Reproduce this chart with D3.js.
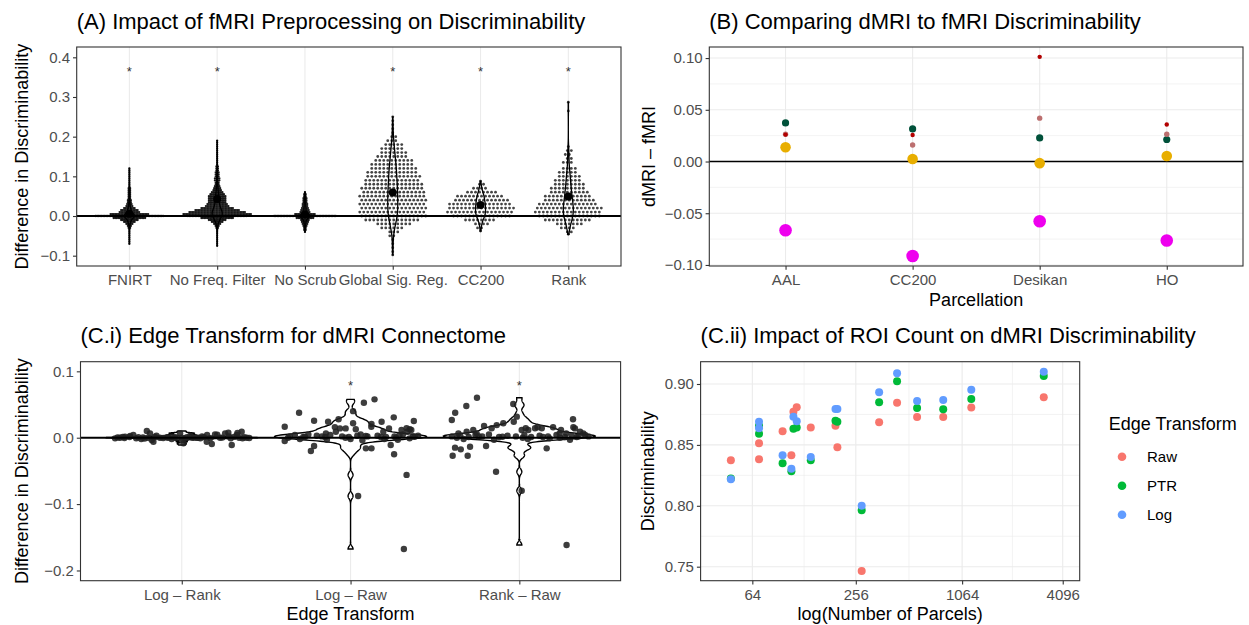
<!DOCTYPE html>
<html><head><meta charset="utf-8">
<script src="https://cdn.jsdelivr.net/npm/d3@7"></script>
<style>
body{margin:0;background:#fff;}
svg{display:block;}
text{font-family:"Liberation Sans",Arial,Helvetica,sans-serif;}
</style>
</head><body>
<svg id="c" width="1249" height="625"></svg>
<script>
// ================= DATA =================
// (A) fMRI preprocessing: swarm rows [difference, number of dots in row]
const catsA = ["FNIRT", "No Freq. Filter", "No Scrub", "Global Sig. Reg.", "CC200", "Rank"];
const swFNIRT = [[0.12,1],[0.115,1],[0.11,1],[0.105,1],[0.1,1],[0.095,1],[0.09,1],[0.085,1],[0.08,1],[0.075,1],[0.07,2],[0.065,2],[0.06,2],[0.055,2],[0.05,2],[0.045,2],[0.04,3],[0.035,3],[0.03,4],[0.025,5],[0.02,8],[0.015,12],[0.01,14],[0.005,26],[0,46],[-0.005,22],[-0.01,12],[-0.015,8],[-0.02,5],[-0.025,3],[-0.03,2],[-0.035,1],[-0.04,1],[-0.045,1],[-0.05,1],[-0.055,1],[-0.06,1],[-0.065,1],[-0.07,1]];
const swNoFreq = [[0.19,1],[0.185,1],[0.18,1],[0.175,1],[0.17,1],[0.165,1],[0.16,1],[0.155,1],[0.15,1],[0.145,1],[0.14,1],[0.135,1],[0.13,1],[0.125,2],[0.12,2],[0.115,2],[0.11,3],[0.105,3],[0.1,3],[0.095,4],[0.09,4],[0.085,3],[0.08,3],[0.075,4],[0.07,5],[0.065,6],[0.06,8],[0.055,10],[0.05,12],[0.045,12],[0.04,12],[0.035,12],[0.03,14],[0.025,16],[0.02,22],[0.015,30],[0.01,38],[0.005,46],[0,40],[-0.005,22],[-0.01,12],[-0.015,8],[-0.02,5],[-0.025,3],[-0.03,2],[-0.035,1],[-0.04,1],[-0.045,1],[-0.05,1],[-0.055,1],[-0.06,1],[-0.065,1],[-0.07,1],[-0.075,1]];
const swNoScrub = [[0.06,1],[0.055,2],[0.05,2],[0.045,3],[0.04,3],[0.035,3],[0.03,4],[0.025,4],[0.02,5],[0.015,6],[0.01,7],[0.005,14],[0,42],[-0.005,12],[-0.01,6],[-0.015,5],[-0.02,4],[-0.025,3],[-0.03,2],[-0.035,2],[-0.04,1]];
const swGSR = [[0.25,1],[0.24,1],[0.23,1],[0.22,1],[0.21,1],[0.2,2],[0.19,3],[0.18,5],[0.17,6],[0.16,7],[0.15,8],[0.14,10],[0.13,11],[0.12,12],[0.11,13],[0.1,14],[0.09,14],[0.08,15],[0.07,16],[0.06,16],[0.05,17],[0.04,17],[0.03,17],[0.02,17],[0.01,17],[0,17],[-0.01,14],[-0.02,9],[-0.03,6],[-0.04,3],[-0.05,2],[-0.06,1],[-0.07,1],[-0.08,1],[-0.09,1],[-0.098,1]];
const swCC200 = [[0.088,1],[0.08,2],[0.07,4],[0.06,8],[0.05,12],[0.04,14],[0.03,16],[0.02,17],[0.01,17],[0,15],[-0.01,8],[-0.02,4],[-0.03,2],[-0.038,1]];
const swRank = [[0.287,1],[0.265,1],[0.175,1],[0.165,2],[0.155,2],[0.145,2],[0.135,3],[0.12,4],[0.11,5],[0.1,6],[0.09,7],[0.08,8],[0.07,9],[0.06,10],[0.05,12],[0.04,13],[0.03,15],[0.02,17],[0.01,17],[0,16],[-0.01,12],[-0.02,7],[-0.03,4],[-0.04,2],[-0.046,1]];
const meansA = [0.006, 0.043, 0.004, 0.059, 0.028, 0.049];
const sigA = [true, true, false, true, true, true];
const starLevelA = 0.37;
const ticksA = [-0.1, 0, 0.1, 0.2, 0.3, 0.4];

// (B) dMRI - fMRI
const parcB = ["AAL", "CC200", "Desikan", "HO"];
const bMagenta = [-0.0665, -0.0913, -0.0577, -0.0764];
const bGold = [0.0138, 0.0025, -0.0016, 0.0054];
const bGreen = [0.0373, 0.0315, 0.0228, 0.0213];
const bRosy = [0.0264, 0.016, 0.0419, 0.0264];
const bRed = [0.026, 0.0257, 0.1012, 0.0358];
const ticksB = [-0.10, -0.05, 0, 0.05, 0.10];

// (C.i) edge transform: points [horizontal jitter (category units), difference]
const catsC = ["Log \u2013 Rank", "Log \u2013 Raw", "Rank \u2013 Raw"];
const logRankPts = [[-0.395,-0.001],[-0.366,0.0],[-0.336,0.0015],[-0.306,0.0026],[-0.287,0.004],[-0.257,0.0006],[-0.207,0.010],[-0.188,0.0066],[-0.178,-0.0035],[-0.168,-0.006],[-0.129,0.0],[-0.089,0.0006],[-0.059,0.0015],[-0.03,0.0],[-0.01,0.0066],[0.0,-0.0035],[0.01,-0.0085],[0.03,0.0006],[0.069,0.0],[0.098,0.0],[0.148,-0.006],[0.178,-0.0095],[0.197,0.005],[0.227,0.0],[0.257,0.0066],[0.276,0.0075],[0.296,-0.011],[0.326,0.004],[0.355,0.009],[0.385,0.0],[0.05,0.003],[0.12,0.002],[-0.24,-0.002],[0.21,0.0045],[0.36,-0.001],[0.28,0.002],[-0.15,0.003],[-0.06,-0.002],[0.15,0.004],[0.33,0.007],
  [-0.38,0.0005],[-0.34,-0.0005],[-0.31,0.001],[-0.27,-0.001],[-0.23,0.0005],[-0.2,0],[-0.16,0.001],[-0.11,-0.0005],[-0.08,0],[-0.04,0.0008],[0.02,-0.0008],[0.06,0.0004],[0.09,-0.0003],[0.13,0.0009],[0.17,-0.0006],[0.24,0.0002],[0.29,-0.0009],[0.31,0.0012],[0.34,-0.0002],[0.37,0.0006],[0.4,-0.0004],[-0.35,0.0012],[-0.22,-0.0012],[0.0,0.0002],[0.11,-0.001]];
const logRawPts = [[-0.39,0.0166],[-0.39,-0.005],[-0.305,0.0377],[-0.216,0.0256],[-0.216,-0.0125],[-0.235,-0.020],[-0.133,0.024],[-0.071,0.0277],[-0.093,0.016],[0.015,0.040],[0.015,0.0217],[0.031,0.0127],[0.079,0.0527],[0.142,0.0578],[0.124,0.0206],[0.184,0.024],[0.256,0.0307],[0.375,0.0251],[0.302,0.0116],[0.332,0.0142],[0.351,0.0127],[0.091,-0.016],[0.124,-0.016],[0.238,-0.011],[0.258,-0.025],[0.332,-0.056],[0.316,-0.1676],[0.045,-0.0878],[-0.063,0.014],[0.336,0.009],[0.36,0.0116],[0.228,0.014],[0.194,0.009],[0.123,0.0166],[-0.029,0.014],[-0.087,0.009],[-0.146,0.0066],[0.29,0.004],[-0.36,0.002],[-0.33,0.004],[-0.28,0.001],[-0.25,0.005],[-0.2,0.003],[-0.17,0.002],[-0.12,0.004],[-0.05,0.002],[-0.01,0.001],[0.04,0.003],[0.06,0.005],[0.1,0.002],[0.16,0.003],[0.21,0.001],[0.26,0.002],[0.31,0.005],[0.37,0.002],[0.4,0.003],[-0.3,-0.002],[-0.14,-0.003],[0.0,-0.002],[0.07,-0.004],[0.2,-0.002],[0.28,-0.003],[0.35,-0.001],
  [-0.37,0.0],[-0.27,0.0015],[-0.15,0.001],[-0.03,0.0],[0.09,0.0025],[0.18,0.001],[0.27,0.0],[0.38,0.0015]];
const rankRawPts = [[-0.40,0.0267],[-0.38,0.0377],[-0.314,0.0477],[-0.251,0.0602],[-0.395,-0.0271],[-0.306,-0.0271],[-0.381,-0.015],[-0.347,-0.0175],[-0.292,-0.0136],[-0.197,-0.0125],[-0.138,-0.0512],[0.28,-0.1616],[0.318,0.0277],[0.32,0.0157],[0.162,-0.016],[0.014,-0.0798],[-0.209,0.0176],[-0.036,0.0507],[-0.095,0.0217],[-0.361,0.0066],[-0.312,0.009],[-0.273,0.0116],[-0.253,0.0066],[-0.164,0.0142],[-0.134,0.019],[-0.015,0.0317],[0.014,0.0116],[0.053,0.0116],[0.093,0.0142],[0.133,0.0142],[0.2,0.0157],[0.239,0.0066],[0.278,0.0066],[0.36,0.009],[0.379,0.0066],[-0.033,0.024],[0.038,0.0142],[0.108,0.0157],[0.247,0.0116],[0.33,0.014],[-0.4,0.002],[-0.35,0.003],[-0.3,0.001],[-0.26,0.004],[-0.22,0.002],[-0.18,0.005],[-0.12,0.001],[-0.07,0.003],[-0.02,0.002],[0.03,0.004],[0.07,0.001],[0.12,0.003],[0.17,0.002],[0.22,0.004],[0.27,0.001],[0.31,0.003],[0.35,0.002],[0.39,0.004],[-0.33,-0.002],[-0.15,-0.003],[0.05,-0.002],[0.18,-0.001],[0.3,-0.003],
  [-0.37,0.0],[-0.24,0.002],[-0.1,0.0015],[0.02,0.0],[0.14,0.001],[0.24,0.0],[0.34,0.001],[0.41,0.002]];
const sigC = [false, true, true];
const starLevelC = 0.082;
const ticksC = [-0.2, -0.1, 0, 0.1];

// (C.ii) ROI count
const parcels = [48, 70, 70, 96, 108, 111, 116, 140, 195, 200, 277, 350, 445, 582, 826, 1203, 3177];
const discRaw = [0.8374, 0.8513, 0.8382, 0.8612, 0.8414, 0.8773, 0.8809, 0.8642, 0.8658, 0.848, 0.7465, 0.8685, 0.8847, 0.8729, 0.8729, 0.8806, 0.8891];
const discPTR = [0.8225, 0.8658, 0.8592, 0.8349, 0.8283, 0.8633, 0.8642, 0.8374, 0.8699, 0.869, 0.7963, 0.885, 0.9022, 0.8803, 0.8792, 0.8877, 0.9066];
const discLog = [0.8218, 0.869, 0.8636, 0.8414, 0.8305, 0.8732, 0.8694, 0.840, 0.8795, 0.8795, 0.8001, 0.8932, 0.9088, 0.886, 0.8869, 0.8953, 0.9101];
const transforms = ["Raw", "PTR", "Log"];
const ticksX2 = [64, 256, 1064, 4096];
const ticksY2 = [0.75, 0.80, 0.85, 0.90];

// ================= DRAWING =================
const svg = d3.select("#c");
const GRID = "#EBEBEB", TXT = "#4D4D4D";

function kde(values, nGrid) {
  const v = values.slice().sort(d3.ascending);
  const n = v.length;
  const sd = d3.deviation(v);
  const iqr = d3.quantile(v, 0.75) - d3.quantile(v, 0.25);
  let lo = Math.min(sd, iqr / 1.34);
  if (!(lo > 0)) lo = sd || Math.abs(v[0]) || 1;
  const bw = 0.9 * lo * Math.pow(n, -0.2);
  const a = v[0], b = v[n - 1];
  const out = [];
  for (let i = 0; i < nGrid; i++) {
    const y = a + (b - a) * i / (nGrid - 1);
    let s = 0;
    for (const x of v) { const z = (y - x) / bw; s += Math.exp(-0.5 * z * z); }
    out.push([y, s / (n * bw * Math.sqrt(2 * Math.PI))]);
  }
  return out;
}

function panelFrame(g, x0, x1, y0, y1) {
  g.append("rect").attr("x", x0).attr("y", y0).attr("width", x1 - x0).attr("height", y1 - y0)
    .attr("fill", "none").attr("stroke", "#333").attr("stroke-width", 1.1);
}
function styleAxis(ax) {
  ax.select(".domain").remove();
  ax.selectAll(".tick line").attr("stroke", "#333").attr("stroke-width", 1.1);
  ax.selectAll(".tick text").attr("fill", TXT).attr("font-size", 15)
    .attr("font-family", '"Liberation Sans",Arial,Helvetica,sans-serif');
}
function leftAxis(g, y, ticks, fmt, x0) {
  const ax = g.append("g").attr("transform", `translate(${x0},0)`)
    .call(d3.axisLeft(y).tickValues(ticks).tickFormat(fmt).tickSize(3.7).tickPadding(3));
  styleAxis(ax);
}
function bottomAxis(g, x, y1, ticks, fmt) {
  let a = d3.axisBottom(x).tickSize(3.7).tickPadding(5);
  if (ticks) a = a.tickValues(ticks);
  if (fmt) a = a.tickFormat(fmt);
  const ax = g.append("g").attr("transform", `translate(0,${y1})`).call(a);
  styleAxis(ax);
}
function title(x, y, t) {
  svg.append("text").attr("x", x).attr("y", y).attr("font-size", 22).attr("fill", "#000").text(t);
}
function yTitle(x, y, t) {
  svg.append("text").attr("transform", `translate(${x},${y}) rotate(-90)`).attr("text-anchor", "middle")
    .attr("font-size", 18).attr("fill", "#000").text(t);
}
function xTitle(x, y, t) {
  svg.append("text").attr("x", x).attr("y", y).attr("text-anchor", "middle")
    .attr("font-size", 18).attr("fill", "#000").text(t);
}

// ---------- Panel A ----------
{
  const L = 76.7, R = 621, T = 47, B = 266;
  const g = svg.append("g");
  const x = d3.scalePoint().domain(catsA).range([L, R]).padding(0.6);
  const y = d3.scaleLinear().domain([-0.126, 0.426]).range([B, T]);
  catsA.forEach(c => g.append("line").attr("x1", x(c)).attr("x2", x(c)).attr("y1", T).attr("y2", B)
    .attr("stroke", GRID).attr("stroke-width", 1.1));
  const profiles = [swFNIRT, swNoFreq, swNoScrub, swGSR, swCC200, swRank];
  const dense = [true, true, true, false, false, false];
  profiles.forEach((prof, ci) => {
    const cx = x(catsA[ci]);
    const s = dense[ci] ? 1.5 : 4.0, r = dense[ci] ? 1.15 : 1.4;
    const dots = [];
    prof.forEach(([v, n], ri) => {
      const off = dense[ci] ? 0 : (ri % 2 ? 1 : -1) * s / 4;
      for (let i = 0; i < n; i++) dots.push([cx + (i - (n - 1) / 2) * s + (n > 1 ? off : 0), y(v)]);
    });
    g.append("g").selectAll("circle").data(dots).join("circle")
      .attr("cx", d => d[0]).attr("cy", d => d[1]).attr("r", r)
      .attr("fill", dense[ci] ? "#0d0d0d" : "#2a2a2a").attr("fill-opacity", dense[ci] ? 0.95 : 0.88);
    const vals = prof.flatMap(([v, n]) => Array(n).fill(v));
    const dens = kde(vals, 256);
    const mx = d3.max(dens, d => d[1]);
    const area = d3.area().y(d => y(d[0])).x0(d => cx - 5 * d[1] / mx).x1(d => cx + 5 * d[1] / mx);
    g.append("path").attr("d", area(dens)).attr("fill", "none")
      .attr("stroke", "#000").attr("stroke-width", 1.3);
    g.append("circle").attr("cx", cx).attr("cy", y(meansA[ci])).attr("r", 4).attr("fill", "#000");
  });
  g.append("line").attr("x1", L).attr("x2", R).attr("y1", y(0)).attr("y2", y(0)).attr("stroke", "#000").attr("stroke-width", 2);
  catsA.forEach((c, i) => { if (sigA[i]) g.append("text").attr("x", x(c)).attr("y", y(starLevelA) + 7)
    .attr("text-anchor", "middle").attr("font-size", 13).attr("fill", "#333").text("*"); });
  panelFrame(g, L, R, T, B);
  leftAxis(g, y, ticksA, d3.format(".1f"), L);
  bottomAxis(g, x, B);
  title(L, 29, "(A) Impact of fMRI Preprocessing on Discriminability");
  yTitle(28, (T + B) / 2, "Difference in Discriminability");
}

// ---------- Panel B ----------
{
  const L = 709.3, R = 1243, T = 47, B = 266;
  const g = svg.append("g");
  const x = d3.scalePoint().domain(parcB).range([L, R]).padding(0.6);
  const y = d3.scaleLinear().domain([-0.101, 0.1107]).range([B, T]);
  const minors = d3.range(ticksB.length - 1).map(i => (ticksB[i] + ticksB[i + 1]) / 2);
  minors.forEach(t => g.append("line").attr("x1", L).attr("x2", R).attr("y1", y(t)).attr("y2", y(t)).attr("stroke", GRID).attr("stroke-width", 0.6));
  ticksB.forEach(t => g.append("line").attr("x1", L).attr("x2", R).attr("y1", y(t)).attr("y2", y(t)).attr("stroke", GRID).attr("stroke-width", 1.1));
  parcB.forEach(c => g.append("line").attr("x1", x(c)).attr("x2", x(c)).attr("y1", T).attr("y2", B).attr("stroke", GRID).attr("stroke-width", 1.1));
  g.append("line").attr("x1", L).attr("x2", R).attr("y1", y(0)).attr("y2", y(0)).attr("stroke", "#000").attr("stroke-width", 1.4);
  const series = [[bMagenta, "#EE00EE", 6.3], [bGold, "#E8AE00", 5.3], [bGreen, "#00513A", 3.6], [bRosy, "#BC6F6F", 2.7], [bRed, "#B20000", 2.2]];
  series.forEach(([vals, col, r]) => {
    g.append("g").selectAll("circle").data(vals).join("circle")
      .attr("cx", (d, i) => x(parcB[i])).attr("cy", d => y(d)).attr("r", r).attr("fill", col);
  });
  panelFrame(g, L, R, T, B);
  leftAxis(g, y, ticksB, d3.format(".2f"), L);
  bottomAxis(g, x, B);
  title(L, 29, "(B) Comparing dMRI to fMRI Discriminability");
  yTitle(655, (T + B) / 2, "dMRI \u2013 fMRI");
  xTitle((L + R) / 2, 306, "Parcellation");
}

// ---------- Panel C.i ----------
{
  const L = 80.5, R = 620.6, T = 361.7, B = 580.7;
  const g = svg.append("g");
  const x = d3.scalePoint().domain(catsC).range([L, R]).padding(0.6);
  const step = x.step();
  const y = d3.scaleLinear().domain([-0.2154, 0.1145]).range([B, T]);
  catsC.forEach(c => g.append("line").attr("x1", x(c)).attr("x2", x(c)).attr("y1", T).attr("y2", B).attr("stroke", GRID).attr("stroke-width", 1.1));
  const sets = [logRankPts, logRawPts, rankRawPts];
  sets.forEach((pts, ci) => {
    const cx = x(catsC[ci]);
    const dens = kde(pts.map(p => p[1]), 512);
    const mx = d3.max(dens, d => d[1]);
    const w = d => 0.45 * step * d[1] / mx;
    const area = d3.area().y(d => y(d[0])).x0(d => cx - w(d)).x1(d => cx + w(d));
    g.append("path").attr("d", area(dens)).attr("fill", "#fff").attr("stroke", "#000").attr("stroke-width", 1.4);
  });
  sets.forEach((pts, ci) => {
    const cx = x(catsC[ci]);
    g.append("g").selectAll("circle").data(pts).join("circle")
      .attr("cx", d => cx + d[0] * step).attr("cy", d => y(d[1])).attr("r", 3.2)
      .attr("fill", "#222").attr("fill-opacity", 0.88);
  });
  g.append("line").attr("x1", L).attr("x2", R).attr("y1", y(0)).attr("y2", y(0)).attr("stroke", "#000").attr("stroke-width", 2);
  catsC.forEach((c, i) => { if (sigC[i]) g.append("text").attr("x", x(c)).attr("y", y(starLevelC) + 7)
    .attr("text-anchor", "middle").attr("font-size", 13).attr("fill", "#333").text("*"); });
  panelFrame(g, L, R, T, B);
  leftAxis(g, y, ticksC, d3.format(".1f"), L);
  bottomAxis(g, x, B);
  title(L, 343, "(C.i) Edge Transform for dMRI Connectome");
  yTitle(28, (T + B) / 2, "Difference in Discriminability");
  xTitle((L + R) / 2, 620, "Edge Transform");
}

// ---------- Panel C.ii ----------
{
  const L = 700.6, R = 1079.7, T = 361.7, B = 580.7;
  const g = svg.append("g");
  const x = d3.scaleLog().base(2).domain([32, 5142]).range([L, R]);
  const y = d3.scaleLinear().domain([0.7385, 0.9183]).range([B, T]);
  const minX = d3.range(ticksX2.length - 1).map(i => Math.sqrt(ticksX2[i] * ticksX2[i + 1]));
  const minY = d3.range(ticksY2.length - 1).map(i => (ticksY2[i] + ticksY2[i + 1]) / 2);
  minY.forEach(t => g.append("line").attr("x1", L).attr("x2", R).attr("y1", y(t)).attr("y2", y(t)).attr("stroke", GRID).attr("stroke-width", 0.6));
  minX.forEach(t => g.append("line").attr("x1", x(t)).attr("x2", x(t)).attr("y1", T).attr("y2", B).attr("stroke", GRID).attr("stroke-width", 0.6));
  ticksY2.forEach(t => g.append("line").attr("x1", L).attr("x2", R).attr("y1", y(t)).attr("y2", y(t)).attr("stroke", GRID).attr("stroke-width", 1.1));
  ticksX2.forEach(t => g.append("line").attr("x1", x(t)).attr("x2", x(t)).attr("y1", T).attr("y2", B).attr("stroke", GRID).attr("stroke-width", 1.1));
  const color = d3.scaleOrdinal().domain(transforms).range(["#F8766D", "#00BA38", "#619CFF"]);
  [discRaw, discPTR, discLog].forEach((vals, si) => {
    g.append("g").selectAll("circle").data(vals).join("circle")
      .attr("cx", (d, i) => x(parcels[i])).attr("cy", d => y(d)).attr("r", 4)
      .attr("fill", color(transforms[si]));
  });
  panelFrame(g, L, R, T, B);
  leftAxis(g, y, ticksY2, d3.format(".2f"), L);
  bottomAxis(g, x, B, ticksX2, d3.format("d"));
  title(L, 343, "(C.ii) Impact of ROI Count on dMRI Discriminability");
  yTitle(654, (T + B) / 2, "Discriminability");
  xTitle((L + R) / 2, 620, "log(Number of Parcels)");
  // legend
  svg.append("text").attr("x", 1108.7).attr("y", 430).attr("font-size", 18).attr("fill", "#000").text("Edge Transform");
  transforms.forEach((t, i) => {
    const yy = 456.7 + i * 29;
    svg.append("circle").attr("cx", 1122).attr("cy", yy).attr("r", 4.3).attr("fill", color(t));
    svg.append("text").attr("x", 1147).attr("y", yy + 5.3).attr("font-size", 15).attr("fill", "#000").text(t);
  });
}
</script>
</body></html>
